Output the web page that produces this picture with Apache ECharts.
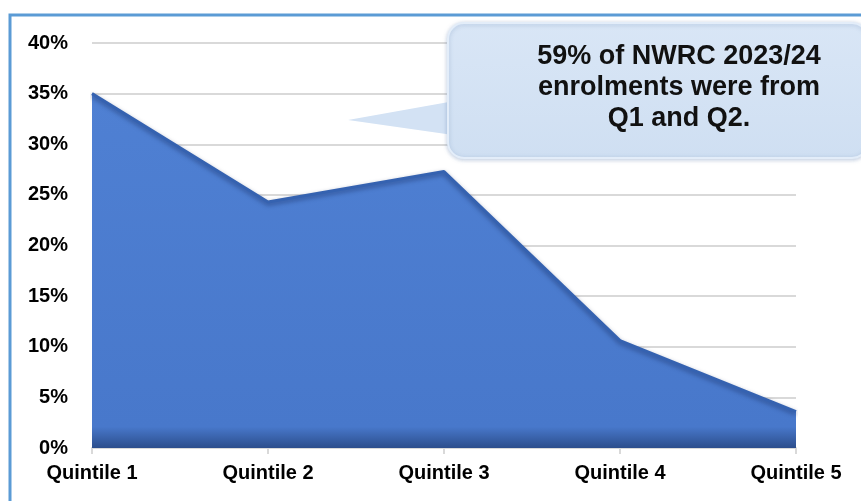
<!DOCTYPE html>
<html>
<head>
<meta charset="utf-8">
<script src="https://cdn.jsdelivr.net/npm/echarts@6/dist/echarts.min.js"></script>
<style>
html,body{margin:0;padding:0;background:#fff;}
#chart{width:861px;height:501px;}
</style>
</head>
<body>
<div id="chart"></div>
<script>
const categories = ['Quintile 1', 'Quintile 2', 'Quintile 3', 'Quintile 4', 'Quintile 5'];
const enrolmentShare = [35, 24.3, 27.3, 10.6, 3.6];
const calloutLines = ['59% of NWRC 2023/24', 'enrolments were from', 'Q1 and Q2.'];

const chart = echarts.init(document.getElementById('chart'));
const labelFont = "'Liberation Sans', Arial, sans-serif";

chart.setOption({
  animation: false,
  backgroundColor: '#ffffff',
  grid: { left: 92, right: 65, top: 43, bottom: 53, containLabel: false },
  xAxis: {
    type: 'category',
    data: categories,
    boundaryGap: false,
    axisLine: { show: true, lineStyle: { color: '#d9d9d9', width: 2 } },
    axisTick: { show: true, length: 6, lineStyle: { color: '#d9d9d9', width: 2 } },
    axisLabel: { color: '#000', fontFamily: labelFont, fontWeight: 'bold', fontSize: 20, margin: 15 },
    splitLine: { show: false }
  },
  yAxis: {
    type: 'value',
    min: 0, max: 40, interval: 5,
    axisLine: { show: false },
    axisTick: { show: false },
    axisLabel: { formatter: '{value}%', color: '#000', fontFamily: labelFont, fontWeight: 'bold', fontSize: 20, margin: 24 },
    splitLine: { lineStyle: { color: '#d9d9d9', width: 2 } }
  },
  series: [{
    type: 'line',
    data: enrolmentShare,
    symbol: 'none',
    z: 3,
    lineStyle: { color: '#3562b0', width: 3, shadowColor: 'rgba(20,40,90,0.5)', shadowBlur: 4, shadowOffsetY: 2 },
    areaStyle: {
      color: new echarts.graphic.LinearGradient(0, 0, 0, 1, [
        { offset: 0, color: '#4f80d3' },
        { offset: 0.94, color: '#4878cb' },
        { offset: 1, color: '#2c4e8c' }
      ]),
      opacity: 1
    }
  }],
  graphic: [
    {
      type: 'rect', z: 0, silent: true,
      shape: { x: 10, y: 15, width: 900, height: 600 },
      style: { fill: 'none', stroke: '#5b9bd5', lineWidth: 3 }
    },
    {
      type: 'polygon', z: 100, zlevel: 1, silent: true,
      shape: { points: [[348, 120], [460, 100], [460, 136]] },
      style: { fill: '#d3e2f4' }
    },
    {
      type: 'rect', z: 101, zlevel: 1, silent: true,
      shape: { x: 448, y: 23, width: 420, height: 135, r: 16 },
      style: { fill: new echarts.graphic.LinearGradient(0, 0, 0, 1, [
        { offset: 0, color: '#d9e6f6' },
        { offset: 1, color: '#cfdff2' }
      ]), stroke: '#e3edf9', lineWidth: 2, shadowColor: 'rgba(90,120,170,0.35)', shadowBlur: 4, shadowOffsetY: 1 }
    },
    {
      type: 'text', z: 102, zlevel: 1, silent: true,
      x: 679, y: 88,
      style: {
        text: calloutLines.join('\n'),
        align: 'center', verticalAlign: 'middle',
        font: "bold 27px 'Liberation Sans', Arial, sans-serif",
        lineHeight: 31,
        fill: '#111'
      }
    }
  ]
});
</script>
</body>
</html>
